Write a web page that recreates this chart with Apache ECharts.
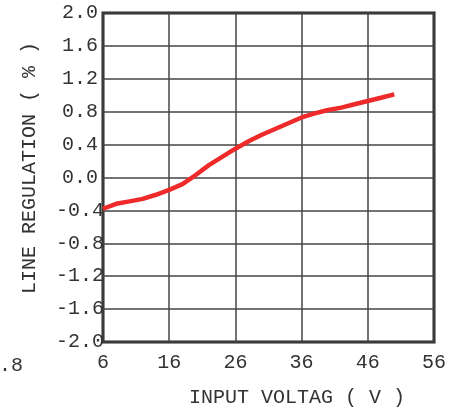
<!DOCTYPE html>
<html>
<head>
<meta charset="utf-8">
<script src="https://cdn.jsdelivr.net/npm/echarts@6/dist/echarts.min.js"></script>
<style>html,body{margin:0;padding:0;background:#fff}#c{width:465px;height:413px}</style>
</head>
<body>
<div id="c"></div>
<script>
var inputVoltage = [6, 8, 10, 12, 14, 16, 18, 20, 22, 24, 26, 28, 30, 32, 34, 36, 38, 40, 42, 44, 46, 48, 50];
var lineRegulation = [-0.38, -0.32, -0.29, -0.26, -0.21, -0.15, -0.08, 0.03, 0.15, 0.25, 0.35, 0.44, 0.52, 0.59, 0.66, 0.73, 0.78, 0.82, 0.85, 0.89, 0.93, 0.97, 1.01];
var xName = 'INPUT VOLTAG ( V )';
var yName = 'LINE REGULATION ( % )';
var strayLabel = '.8';

var FONT = "'Liberation Mono', 'Courier New', 'DejaVu Sans Mono', monospace";
var TXT = '#333';
var chart = echarts.init(document.getElementById('c'), null, {renderer: 'canvas'});
chart.setOption({
  animation: false,
  backgroundColor: '#fff',
  grid: {left: 103, top: 13, width: 331, height: 331, show: true, borderColor: '#222', borderWidth: 3, backgroundColor: 'transparent'},
  xAxis: {
    type: 'value', min: 6, max: 56, interval: 10,
    name: xName, nameLocation: 'middle', nameGap: 46,
    nameTextStyle: {fontFamily: FONT, fontSize: 20, color: TXT, padding: [0, 0, 0, 57]},
    axisLine: {show: false}, axisTick: {show: false},
    axisLabel: {fontFamily: FONT, fontSize: 20, color: TXT, margin: 11},
    splitLine: {show: true, lineStyle: {color: '#444', width: 1.5}}
  },
  yAxis: {
    type: 'value', min: -2, max: 2, interval: 0.4,
    name: yName, nameLocation: 'middle', nameGap: 63, nameRotate: 90,
    nameTextStyle: {fontFamily: FONT, fontSize: 20, color: TXT, padding: [0, 0, 0, 19]},
    axisLine: {show: false}, axisTick: {show: false},
    axisLabel: {fontFamily: FONT, fontSize: 20, color: TXT, margin: 23, align: 'center',
      formatter: function (v) { if (Math.abs(v) < 1e-9) return '0.0'; return v.toFixed(1); }},
    splitLine: {show: true, lineStyle: {color: '#444', width: 1.5}}
  },
  graphic: [{type: 'text', left: -1, top: 356, style: {text: strayLabel, fontFamily: FONT, fontSize: 20, fill: TXT}}],
  series: [{
    type: 'line', data: inputVoltage.map(function (x, i) { return [x, lineRegulation[i]]; }),
    showSymbol: false, smooth: false,
    lineStyle: {color: '#ee2a2a', width: 4.5}
  }]
});
</script>
</body>
</html>
